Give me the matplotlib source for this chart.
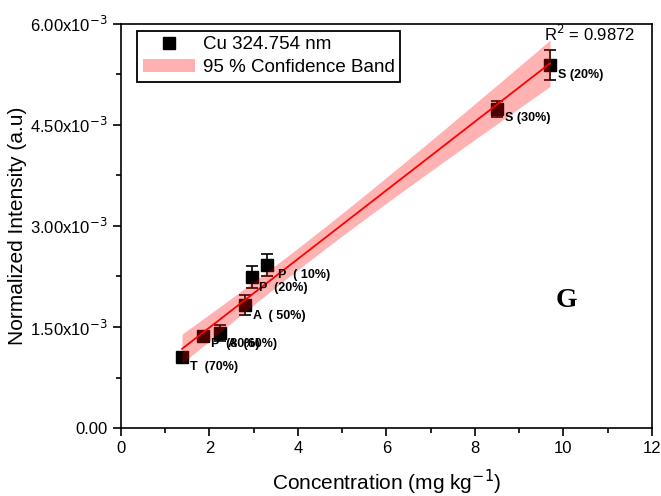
import matplotlib
matplotlib.use("Agg")
import matplotlib.pyplot as plt
import numpy as np
from matplotlib.lines import Line2D
from matplotlib.patches import Patch
from matplotlib.ticker import FixedLocator, FuncFormatter

plt.rcParams["font.family"] = ["Liberation Sans", "DejaVu Sans"]

# data
conc = [1.38, 1.85, 2.24, 2.80, 2.96, 3.30, 8.50, 9.70]
intensity = [1.05e-3, 1.37e-3, 1.41e-3, 1.83e-3, 2.24e-3, 2.42e-3, 4.74e-3, 5.39e-3]
errors = [0.03e-3, 0.03e-3, 0.12e-3, 0.15e-3, 0.16e-3, 0.17e-3, 0.12e-3, 0.22e-3]
labels = ["T  (70%)", "P  (80%)", "A  (60%)", "A  ( 50%)", "P  (20%)", "P  ( 10%)", "S (30%)", "S (20%)"]
label_offsets = [(6, -7), (6, -6), (6, -8), (6, -8), (5, -8), (8, -7), (6, -7), (6, -7)]
r_squared = 0.9872

x = np.array(conc)
y = np.array(intensity)
slope, intercept = np.polyfit(x, y, 1)
xf = np.linspace(x.min(), x.max(), 100)
yf = slope * xf + intercept

# 95 % confidence band of the fit
n = len(x)
resid = y - (slope * x + intercept)
s = np.sqrt(np.sum(resid ** 2) / (n - 2))
sxx = np.sum((x - x.mean()) ** 2)
t_val = 2.447
half = t_val * s * np.sqrt(1 / n + (xf - x.mean()) ** 2 / sxx)

fig = plt.figure(figsize=(6.61, 4.96), dpi=100)
ax = fig.add_axes([0.183, 0.137, 0.803, 0.815])

ax.errorbar(x, y, yerr=errors, fmt="none", ecolor="black", elinewidth=1.2,
            capsize=4, capthick=1.2, zorder=2)
ax.plot(x, y, "s", color="black", markersize=8, zorder=3)
ax.fill_between(xf, yf - half, yf + half, color="red", alpha=0.3,
                linewidth=0, zorder=4)
ax.plot(xf, yf, color="red", linewidth=1.3, zorder=5)

for xi, yi, lab, off in zip(x, y, labels, label_offsets):
    ax.annotate(lab, (xi, yi), xytext=off, textcoords="offset points",
                fontsize=9, fontweight="bold", ha="left", va="center", zorder=6)

ax.text(10.6, 5.7e-3, f"R$^2$ = {r_squared}", fontsize=12, ha="center", va="bottom")
ax.text(10.08, 1.9e-3, "G", fontsize=20, fontweight="bold", family="Liberation Serif",
        ha="center", va="center")

ax.set_xlim(0, 12)
ax.set_ylim(0, 6e-3)
ax.set_xticks(np.arange(0, 13, 2))
ax.xaxis.set_minor_locator(FixedLocator(np.arange(1, 12, 2)))
ax.set_yticks([0, 1.5e-3, 3e-3, 4.5e-3, 6e-3])
ax.yaxis.set_minor_locator(FixedLocator([0.75e-3, 2.25e-3, 3.75e-3, 5.25e-3]))


def fmt_y(v, pos):
    if v == 0:
        return "0.00"
    return f"{v * 1e3:.2f}x10$^{{-3}}$"


ax.yaxis.set_major_formatter(FuncFormatter(fmt_y))
ax.tick_params(which="major", direction="out", length=6, width=1.2, labelsize=12,
               top=False, right=False)
ax.tick_params(which="minor", direction="out", length=3.5, width=1.2,
               top=False, right=False)
for sp in ax.spines.values():
    sp.set_linewidth(1.2)

ax.set_xlabel("Concentration (mg kg$^{-1}$)", fontsize=15, labelpad=8)
ax.set_ylabel("Normalized Intensity (a.u)", fontsize=15, labelpad=2)

handles = [
    Line2D([], [], marker="s", color="black", linestyle="none", markersize=8),
    Patch(facecolor="#ffb0b0", edgecolor="none"),
]
ax.legend(handles, ["Cu 324.754 nm", "95 % Confidence Band"], loc="upper left",
          bbox_to_anchor=(0.03, 0.983), fontsize=13.5, frameon=True, fancybox=False,
          edgecolor="black", framealpha=1, borderpad=0.3, labelspacing=0.3,
          borderaxespad=0, handlelength=2.8, handletextpad=0.4).get_frame().set_linewidth(1.3)

# cut-off label of the panel above
fig.text(0.682, 1.0 + 3 / 496, "(mg kg$^{-1}$)", fontsize=15, ha="center", va="baseline")

fig.savefig("out.png", dpi=100)
